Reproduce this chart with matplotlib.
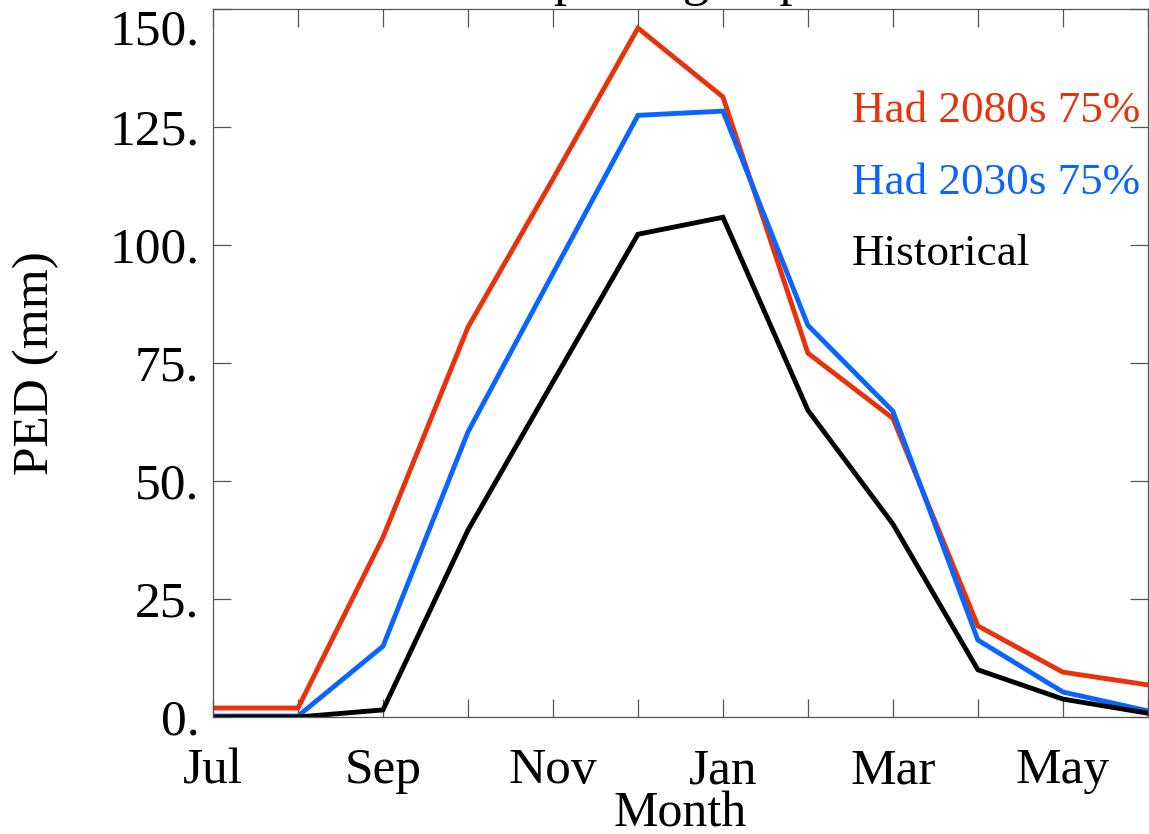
import matplotlib.pyplot as plt
from matplotlib.ticker import FixedLocator, FuncFormatter

plt.rcParams['font.family'] = ['Liberation Serif', 'DejaVu Serif']

# months, July to June
months = ['Jul', 'Aug', 'Sep', 'Oct', 'Nov', 'Dec',
          'Jan', 'Feb', 'Mar', 'Apr', 'May', 'Jun']

# PED (mm)
had2080 = [1.9, 1.9, 38.1, 82.6, 114.0, 146.0, 131.4, 77.1, 63.3, 19.3, 9.5, 6.8]
had2030 = [0.2, 0.2, 15.0, 60.4, 94.0, 127.5, 128.4, 83.0, 64.8, 16.3, 5.3, 1.3]
historical = [0.0, 0.0, 1.5, 39.6, 71.0, 102.3, 105.9, 65.0, 40.9, 10.0, 3.8, 0.8]

series_names = ['Had 2080s 75%', 'Had 2030s 75%', 'Historical']
series_colors = ['#e8320c', '#0a64ff', 'black']

fig = plt.figure(figsize=(11.49, 8.34), dpi=100)
ax = fig.add_axes([0.1854, 0.1403, 0.8136, 0.8487])

x = list(range(len(months)))
for vals, c in zip([had2080, had2030, historical], series_colors):
    ax.plot(x, vals, color=c, lw=3.5, solid_joinstyle='miter')

ax.set_xlim(0, 11)
ax.set_ylim(0, 150)

ax.xaxis.set_major_locator(FixedLocator(x))
ax.set_xticklabels([m if i % 2 == 0 else '' for i, m in enumerate(months)])
ax.yaxis.set_major_locator(FixedLocator([0, 25, 50, 75, 100, 125, 150]))
ax.yaxis.set_major_formatter(FuncFormatter(lambda v, p: '%d.' % v))

ax.tick_params(axis='both', direction='in', top=True, right=True,
               length=13, width=0.9, color='#555555', labelsize=37)
ax.tick_params(axis='x', pad=22)
ax.tick_params(axis='y', pad=10)
for s in ax.spines.values():
    s.set_color('#555555')
    s.set_linewidth(0.9)

# top label sits below its tick so it stays on the canvas
ax.get_yticklabels()[-1].set_va('top')
ax.get_yticklabels()[-1].set_y(150)

ax.set_ylabel('PED (mm)', fontsize=37, labelpad=36)
ax.set_xlabel('Month', fontsize=36, labelpad=-2)

# title sits mostly above the canvas, only descenders show
ax.set_title('Deep soil group 2', fontsize=38, pad=-10, y=1.04, x=0.475)

for i, (name, c) in enumerate(zip(series_names, series_colors)):
    ax.text(0.683, 0.856 - i * 0.101, name, color=c, fontsize=32.5,
            transform=ax.transAxes, va='center', ha='left')

fig.savefig('out.png', dpi=100)
